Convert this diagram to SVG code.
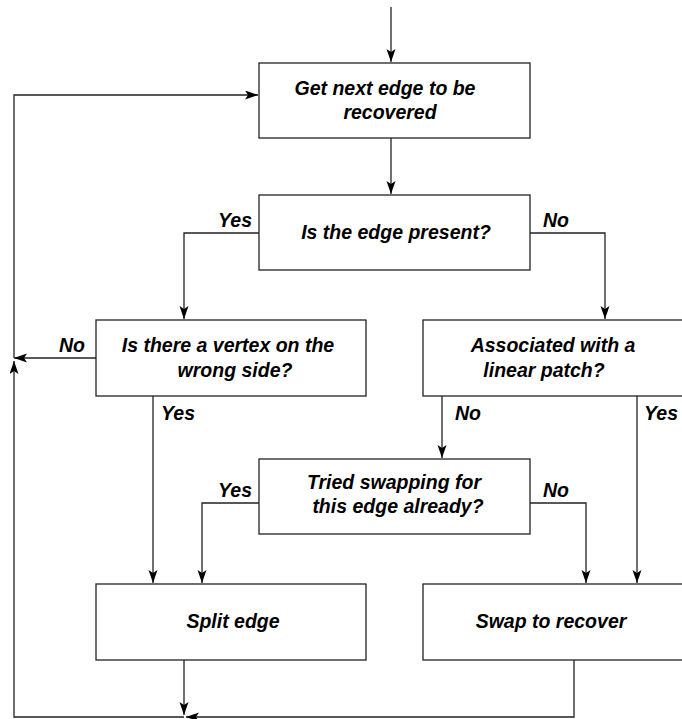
<svg xmlns="http://www.w3.org/2000/svg" width="682" height="719" viewBox="0 0 682 719">
<style>
.box{fill:#fff;stroke:#222;stroke-width:1.3}
.t{font-family:"Liberation Sans",Arial,sans-serif;font-weight:bold;font-style:italic;font-size:19.5px;fill:#000;text-anchor:middle}
.c{fill:none;stroke:#222;stroke-width:1.3}
</style>
<defs>
<marker id="a" markerUnits="userSpaceOnUse" markerWidth="14" markerHeight="10" refX="13" refY="4.5" orient="auto">
<path d="M0,0 L13,4.5 L0,9 L3,4.5 z" fill="#000"/>
</marker>
</defs>
<g id="connectors">
<path class="c" d="M391,7 V62" marker-end="url(#a)"/>
<path class="c" d="M391,138 V194" marker-end="url(#a)"/>
<path class="c" d="M259,233 H184 V319" marker-end="url(#a)"/>
<path class="c" d="M530,233 H605 V319" marker-end="url(#a)"/>
<path class="c" d="M96,358 H14" marker-end="url(#a)"/>
<path class="c" d="M14,358 V95 H258" marker-end="url(#a)"/>
<path class="c" d="M153,396 V583" marker-end="url(#a)"/>
<path class="c" d="M442,396 V458" marker-end="url(#a)"/>
<path class="c" d="M637,396 V583" marker-end="url(#a)"/>
<path class="c" d="M259,503 H202 V583" marker-end="url(#a)"/>
<path class="c" d="M530,503 H586 V583" marker-end="url(#a)"/>
<path class="c" d="M184,660 V715" marker-end="url(#a)"/>
<path class="c" d="M574,660 V717 H186" marker-end="url(#a)"/>
<path class="c" d="M184,717 H14 V361" marker-end="url(#a)"/>
</g>
<g id="n1"><rect class="box" x="259" y="63" width="271" height="75"/>
<text class="t" x="385" y="95">Get next edge to be</text>
<text class="t" x="390" y="119">recovered</text></g>
<g id="n2"><rect class="box" x="259" y="195" width="271" height="75"/>
<text class="t" x="396" y="239">Is the edge present?</text></g>
<g id="n3"><rect class="box" x="96" y="320" width="270" height="76"/>
<text class="t" x="228" y="352">Is there a vertex on the</text>
<text class="t" x="235" y="377">wrong side?</text></g>
<g id="n4"><rect class="box" x="423" y="320" width="270" height="76"/>
<text class="t" x="553" y="352">Associated with a</text>
<text class="t" x="544" y="377">linear patch?</text></g>
<g id="n5"><rect class="box" x="259" y="459" width="271" height="75"/>
<text class="t" x="394" y="489">Tried swapping for</text>
<text class="t" x="398" y="513">this edge already?</text></g>
<g id="n6"><rect class="box" x="96" y="584" width="270" height="76"/>
<text class="t" x="233" y="628">Split edge</text></g>
<g id="n7"><rect class="box" x="423" y="584" width="270" height="76"/>
<text class="t" x="551" y="628">Swap to recover</text></g>
<g id="labels">
<text class="t" x="235" y="227">Yes</text>
<text class="t" x="556" y="227">No</text>
<text class="t" x="72" y="352">No</text>
<text class="t" x="178" y="420">Yes</text>
<text class="t" x="468" y="420">No</text>
<text class="t" x="661" y="420">Yes</text>
<text class="t" x="235" y="497">Yes</text>
<text class="t" x="556" y="497">No</text>
</g>
</svg>
